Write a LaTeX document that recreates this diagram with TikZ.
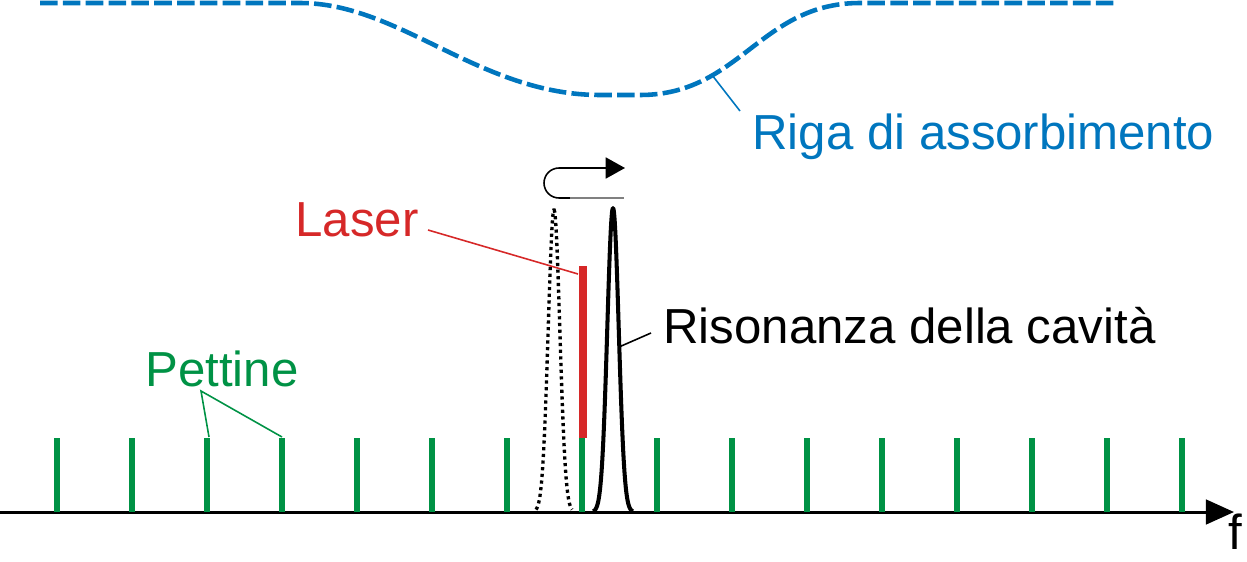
\documentclass[tikz,border=0pt]{standalone}
\usepackage{fontspec}
\setmainfont{Liberation Sans}
\usetikzlibrary{arrows.meta}
\definecolor{cgreen}{RGB}{0,146,69}
\definecolor{cred}{RGB}{214,40,40}
\definecolor{cblue}{RGB}{0,118,190}
\begin{document}
\begin{tikzpicture}[x=0.02cm,y=-0.02cm,
  lbl/.style={font=\fontsize{28}{32}\selectfont, anchor=base west, inner sep=0pt},
  tooth/.style={draw=cgreen, line width=3.4pt},
  leader/.style={line width=0.9pt},
  peakline/.style={line width=2.3pt, line join=round}]
\useasboundingbox (0,0) rectangle (1247,561);
% absorption line
\draw[cblue, line width=2.6pt, dash pattern=on 10pt off 3pt]
  (40,3) -- (300,3) .. controls (400,3) and (480,95) .. (600,95)
  -- (640,95) .. controls (740,95) and (760,3) .. (860,3) -- (1115,3);
\coordinate (rigapt) at (712,75);
\node[lbl, text=cblue] (riga) at (752,149) {Riga di assorbimento};
\draw[cblue, leader] (rigapt) -- (740,111);
% axis
\coordinate (ax0) at (0,512);
\coordinate (ax1) at (1234,512);
\draw[line width=1.7pt, -{Triangle[length=16pt,width=14pt]}] (ax0) -- (ax1);
\node[lbl] (f) at (1228,549) {f};
% comb
\foreach \i in {0,...,15}{
  \draw[tooth] ({57+75*\i},438) -- ({57+75*\i},512);
}
% laser
\draw[draw=cred, line width=4.5pt] (583,266) coordinate (lastop) -- (583,438);
\node[lbl, text=cred] (laser) at (295,236) {Laser};
\draw[cred, leader] (428,230) -- (578,274);
% peaks
\draw[line width=1.9pt, line cap=butt, dash pattern=on 1.8pt off 2.0pt]
  plot[domain=-18:18, samples=90, smooth] ({554+\x},{512-302*exp(-(\x*\x)/(2*5.8*5.8))});
\draw[peakline]
  plot[domain=-20:20, samples=90, smooth] ({613+\x},{512-304*exp(-(\x*\x)/(2*5.7*5.7))});
\node[lbl] (riso) at (663,343) {Risonanza della cavità};
\draw[leader] (619,347) -- (651,333);
% comb label
\node[lbl, text=cgreen] (pett) at (145,386) {Pettine};
\coordinate (pv) at (201,391);
\draw[cgreen, leader] (209,437) -- (pv) -- (282,437);
% shift arrow
\draw[line width=0.9pt, -{Triangle[length=11pt,width=12pt]}]
  (570,198) -- (559,198) arc[start angle=90, end angle=270, radius=15] -- (625,168);
\draw[line width=0.6pt, gray] (570,198) -- (624,198);
\end{tikzpicture}
\end{document}
